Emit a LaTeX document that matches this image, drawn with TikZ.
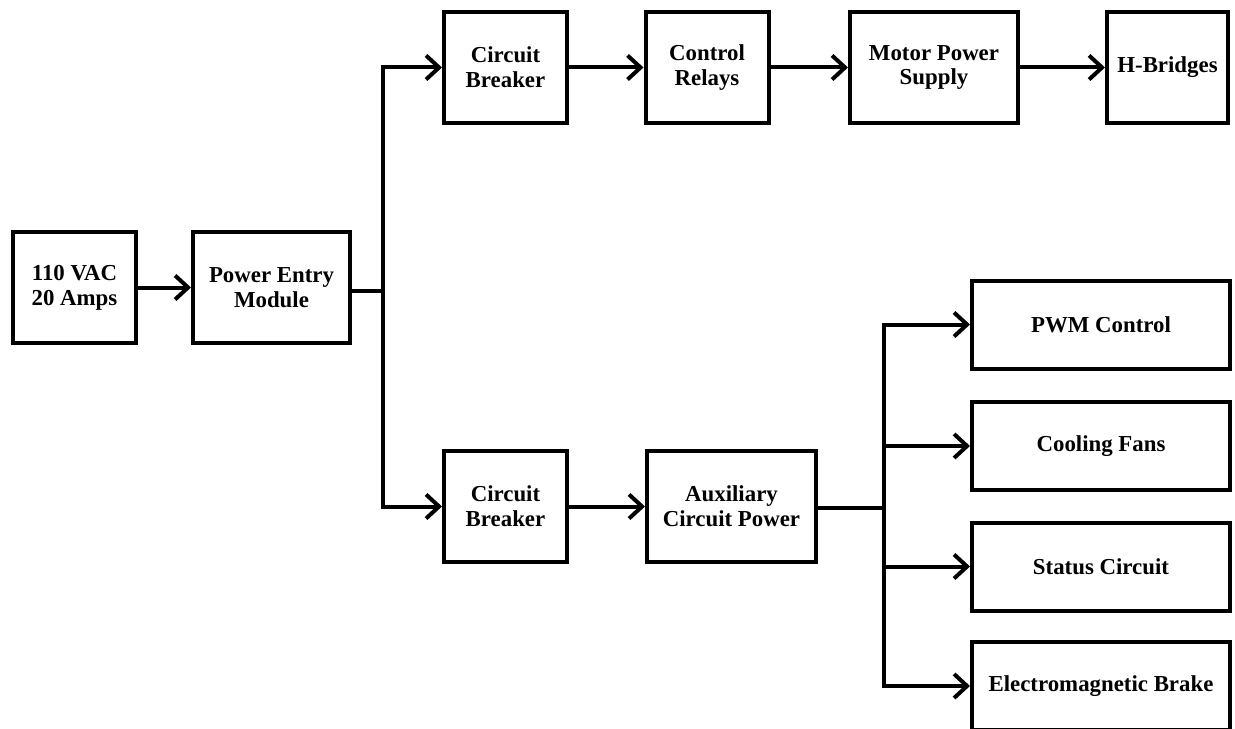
\documentclass[tikz,border=0pt]{standalone}
\usepackage{fontspec}
\setmainfont{Liberation Serif}
\usepackage{tikz}
\usetikzlibrary{arrows.meta,positioning}

\begin{document}
\begin{tikzpicture}[
  block/.style={rectangle, draw=black, line width=0.08cm, align=center, minimum height=2.22cm, minimum width=2.46cm, font=\bfseries\fontsize{13}{14.2}\selectfont},
  wide/.style={block, minimum width=5.16cm, minimum height=1.76cm},
  arrow/.style={-{Straight Barb[length=0.26cm, width=0.48cm, line width=0.08cm]}, line width=0.08cm},
  wire/.style={line width=0.08cm}
]
\useasboundingbox (0,0) rectangle (24.7,-14.58);
\begin{scope}
\clip (0,0) rectangle (24.7,-14.58);
\node[block] (ac) at (1.49,-5.75) {110 VAC\\20 Amps};
\node[block, minimum width=3.14cm] (pem) at (5.43,-5.75) {Power Entry\\Module};
\node[block] (cbtop) at (10.11,-1.35) {Circuit\\Breaker};
\node[block] (relays) at (14.14,-1.35) {Control\\Relays};
\node[block, minimum width=3.36cm] (motor) at (18.68,-1.35) {Motor Power\\Supply};
\node[block, minimum width=2.42cm] (hbridge) at (23.35,-1.35) {H-Bridges};
\node[block] (cbbot) at (10.11,-10.13) {Circuit\\Breaker};
\node[block, minimum width=3.38cm] (aux) at (14.63,-10.13) {Auxiliary\\Circuit Power};
\node[wide] (pwm) at (22.02,-6.49) {PWM Control};
\node[wide] (fans) at (22.02,-8.92) {Cooling Fans};
\node[wide] (status) at (22.02,-11.33) {Status Circuit};
\node[wide] (brake) at (22.02,-13.72) {Electromagnetic Brake};

\coordinate (split) at (7.66,-5.82);
\coordinate (branch) at (17.68,-10.16);

\draw[arrow] (ac) -- (pem);
\draw[wire] (pem.east |- split) -- (split);
\draw[arrow] (split) |- (cbtop.west);
\draw[arrow] (split) |- (cbbot.west);
\draw[arrow] (cbtop) -- (relays);
\draw[arrow] (relays) -- (motor);
\draw[arrow] (motor) -- (hbridge);
\draw[arrow] (cbbot) -- (aux);
\draw[wire] (aux.east |- branch) -- (branch);
\draw[arrow] (branch) |- (pwm.west);
\draw[arrow] (branch) |- (fans.west);
\draw[arrow] (branch) |- (status.west);
\draw[arrow] (branch) |- (brake.west);
\end{scope}
\end{tikzpicture}
\end{document}
